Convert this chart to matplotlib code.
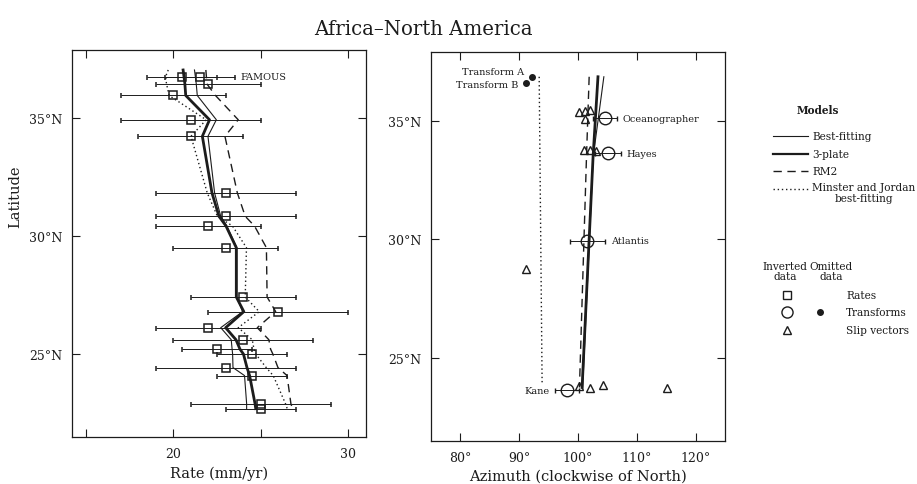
import numpy as np
import matplotlib.pyplot as plt

plt.rcParams['font.family'] = 'DejaVu Serif'
ink = '#1c1c1c'

# ---- left panel: spreading rates ----
rate_lat = [36.77, 36.77, 36.47, 35.97, 34.94, 34.24, 31.84, 30.85, 30.44, 29.52,
            27.43, 26.81, 26.13, 25.62, 25.22, 25.01, 24.44, 24.10, 22.91, 22.70]
rate_val = [20.5, 21.5, 22.0, 20.0, 21.0, 21.0, 23.0, 23.0, 22.0, 23.0,
            24.0, 26.0, 22.0, 24.0, 22.5, 24.5, 23.0, 24.5, 25.0, 25.0]
rate_err = [2, 2, 3, 3, 4, 3, 4, 4, 3, 3,
            3, 4, 3, 4, 2, 2, 4, 2, 4, 2]

model_lat = [37.05, 36.77, 36.47, 35.97, 34.94, 34.24, 31.84, 30.85, 30.44, 29.52,
             27.43, 26.81, 26.13, 25.62, 25.22, 25.01, 24.44, 24.10, 22.91, 22.70]
best_rate = [21.2, 21.25, 21.3, 21.36, 22.45, 21.97, 22.35, 22.7, 23.05, 23.62,
             23.62, 23.95, 22.7, 23.3, 23.35, 23.38, 23.4, 24.06, 24.18, 24.18]
plate3_rate = [20.55, 20.6, 20.65, 20.7, 22.06, 21.65, 22.2, 22.6, 23.0, 23.59,
               23.59, 24.02, 22.98, 23.57, 23.8, 24.0, 24.2, 24.35, 24.66, 24.7]
rm2_rate = [21.85, 21.88, 21.9, 22.4, 23.7, 22.94, 23.65, 24.1, 24.63, 25.31,
            25.35, 25.84, 24.79, 25.45, 25.55, 25.68, 25.97, 26.49, 26.71, 26.8]
mj_rate = [19.7, 19.55, 19.6, 19.75, 21.87, 21.0, 21.93, 22.51, 23.37, 24.17,
           24.1, 24.9, 23.7, 24.5, 24.6, 24.7, 25.3, 25.7, 26.4, 26.5]

# ---- right panel: azimuths ----
tf_names = ['Oceanographer', 'Hayes', 'Atlantis', 'Kane']
tf_lat = [35.11, 33.63, 29.93, 23.64]
tf_az = [104.6, 105.1, 101.6, 98.1]
tf_err = [2.0, 2.2, 3.0, 2.0]

omit_names = ['Transform A', 'Transform B']
omit_lat = [36.85, 36.57]
omit_az = [92.1, 91.1]

slip_lat = [35.37, 35.41, 35.44, 35.09, 33.78, 33.78, 33.72, 28.76,
            23.81, 23.71, 23.84, 23.73]
slip_az = [100.1, 101.2, 102.05, 101.2, 101.0, 102.0, 103.0, 91.1,
           100.1, 102.1, 104.2, 115.2]

az_model_lat = [36.85, 33.5, 23.75]
best_az = [104.4, 102.6, 100.8]
plate3_az = [103.4, 102.57, 100.7]
rm2_az = [101.9, 101.45, 100.25]
mj_lat = [36.85, 23.9]
mj_az = [93.4, 93.9]

lat_ticks = [25, 30, 35]
rate_ticks = [15, 20, 25, 30]
rate_ticklabels = ['', '20', '', '30']
az_ticks = [80, 90, 100, 110, 120]

styles = {
    'best': dict(color=ink, lw=0.8, ls='-'),
    'plate3': dict(color=ink, lw=2.0, ls='-'),
    'rm2': dict(color=ink, lw=1.0, ls=(0, (6, 4))),
    'mj': dict(color=ink, lw=1.0, ls=(0, (1, 2))),
}

fig = plt.figure(figsize=(9.17, 4.85), dpi=100)
ax1 = fig.add_axes([0.0785, 0.097, 0.3206, 0.798])
ax2 = fig.add_axes([0.470, 0.089, 0.3206, 0.802])

for ax in (ax1, ax2):
    for s in ax.spines.values():
        s.set_linewidth(0.9)
        s.set_color(ink)
    ax.tick_params(direction='in', length=6, width=0.8, top=True, right=True,
                   labelsize=9, colors=ink, pad=7)
    ax.set_yticks(lat_ticks)
    ax.set_yticklabels(['%d°N' % t for t in lat_ticks])
    ax.set_ylim(21.5, 37.9)

# left
ax1.plot(best_rate, model_lat, **styles['best'])
ax1.plot(plate3_rate, model_lat, **styles['plate3'])
ax1.plot(rm2_rate, model_lat, **styles['rm2'])
ax1.plot(mj_rate, model_lat, **styles['mj'])
ax1.errorbar(rate_val, rate_lat, xerr=rate_err, fmt='s', ms=6, mfc='none',
             mec=ink, mew=1.1, ecolor=ink, elinewidth=0.7, capsize=1.8, capthick=0.7)
ax1.annotate('FAMOUS', (rate_val[1] + rate_err[1], rate_lat[1]), xytext=(4, 0),
             textcoords='offset points', fontsize=7, va='center', color=ink)
ax1.set_xlim(14.2, 31.0)
ax1.set_xticks(rate_ticks)
ax1.set_xticklabels(rate_ticklabels)
ax1.set_xlabel('Rate (mm/yr)', fontsize=10.5, color=ink, labelpad=4)

# right
ax2.plot(best_az, az_model_lat, **styles['best'])
ax2.plot(plate3_az, az_model_lat, **styles['plate3'])
ax2.plot(rm2_az, az_model_lat, **styles['rm2'])
ax2.plot(mj_az, mj_lat, **styles['mj'])
ax2.plot(slip_az, slip_lat, '^', ms=6, mfc='none', mec=ink, mew=1.0, ls='none')
ax2.errorbar(tf_az, tf_lat, xerr=tf_err, fmt='o', ms=9, mfc='none', mec=ink,
             mew=1.0, ecolor=ink, elinewidth=0.7, capsize=1.8, capthick=0.7)
ax2.plot(omit_az, omit_lat, 'o', ms=4, color=ink, ls='none')
for name, az, lat, err in zip(tf_names, tf_az, tf_lat, tf_err):
    if name == 'Kane':
        ax2.annotate(name, (az - err, lat), xytext=(-4, 0), textcoords='offset points',
                     fontsize=7, va='center', ha='right', color=ink)
    else:
        ax2.annotate(name, (az + err, lat), xytext=(4, 0), textcoords='offset points',
                     fontsize=7, va='center', ha='left', color=ink)
for name, az, lat, dy in zip(omit_names, omit_az, omit_lat, [3.5, -1]):
    ax2.annotate(name, (az, lat), xytext=(-5, dy), textcoords='offset points',
                 fontsize=7, va='center', ha='right', color=ink)
ax2.set_xlim(75, 125)
ax2.set_xticks(az_ticks)
ax2.set_xticklabels(['%d°' % t for t in az_ticks])
ax2.set_xlabel('Azimuth (clockwise of North)', fontsize=10.5, color=ink, labelpad=4)

fig.text(0.462, 0.94, 'Africa–North America', ha='center', va='center',
         fontsize=14.2, color=ink)
fig.text(15 / 917, 1 - 197 / 485, 'Latitude', rotation=90, ha='center',
         va='center', fontsize=10.5, color=ink)

# legend drawn in pixel space on an overlay
lx = fig.add_axes([0, 0, 1, 1])
lx.set_xlim(0, 917)
lx.set_ylim(485, 0)
lx.axis('off')
lx.patch.set_alpha(0)

lfs = 7.6
model_labels = ['Best-fitting', '3-plate', 'RM2', 'Minster and Jordan\nbest-fitting']
model_keys = ['best', 'plate3', 'rm2', 'mj']
lx.text(818, 111, 'Models', fontsize=lfs, ha='center', va='center', color=ink,
        fontweight='bold')
for i, (lab, key) in enumerate(zip(model_labels, model_keys)):
    y = 137 + i * 17.6
    st = dict(styles[key])
    st['lw'] = min(st['lw'], 1.6)
    lx.plot([773, 808], [y, y], **st)
    if '\n' in lab:
        lx.text(812, y - 6.5, lab, fontsize=lfs, va='top', ha='left',
                multialignment='center', color=ink, linespacing=1.05)
    else:
        lx.text(812, y, lab, fontsize=lfs, va='center', ha='left', color=ink)

lx.text(785, 272, 'Inverted\ndata', fontsize=lfs, ha='center', va='center',
        color=ink, linespacing=1.0)
lx.text(831, 272, 'Omitted\ndata', fontsize=lfs, ha='center', va='center',
        color=ink, linespacing=1.0)
data_labels = ['Rates', 'Transforms', 'Slip vectors']
inv_markers = ['s', 'o', '^']
inv_sizes = [5.5, 8, 5.5]
for i, (lab, mk, ms) in enumerate(zip(data_labels, inv_markers, inv_sizes)):
    y = 296 + i * 17.3
    lx.plot([787], [y], mk, ms=ms, mfc='none', mec=ink, mew=1.0)
    lx.text(846, y, lab, fontsize=lfs, va='center', ha='left', color=ink)
lx.plot([820], [313.3], 'o', ms=4, color=ink)

fig.savefig('out.png', dpi=100, facecolor='white')
